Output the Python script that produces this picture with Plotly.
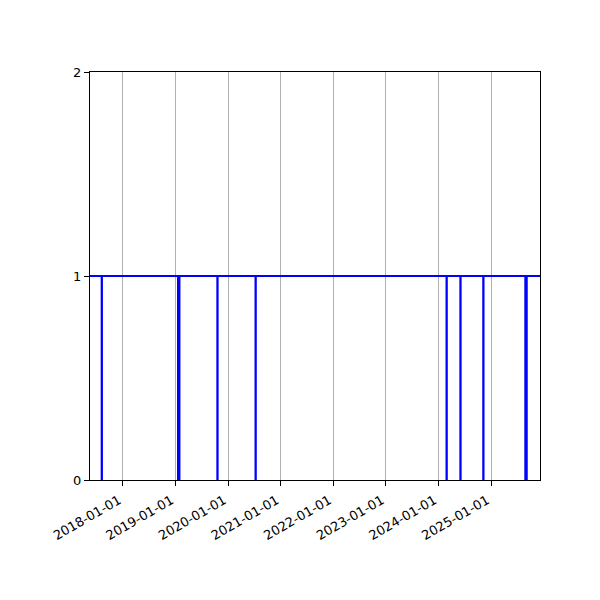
import plotly.graph_objects as go

# Data: series is 1 except for outage periods where it drops to 0
range_start = "2017-05-18"
range_end = "2025-12-06"
outage_start = ["2017-08-07", "2019-01-19", "2019-10-19", "2020-07-10",
                "2024-02-26", "2024-06-01", "2024-11-07", "2025-08-26"]
outage_end = ["2017-08-09", "2019-01-29", "2019-10-21", "2020-07-12",
              "2024-02-28", "2024-06-03", "2024-11-09", "2025-09-05"]

x = [range_start]
y = [1]
for s, e in zip(outage_start, outage_end):
    x += [s, e]
    y += [0, 1]
x.append(range_end)
y.append(1)

fig = go.Figure()
fig.add_trace(go.Scatter(x=x, y=y, mode="lines", line=dict(color="#0000ff", width=2, shape="hv"),
                         showlegend=False))

fig.update_layout(
    width=600, height=600,
    margin=dict(l=82, r=68, t=64, b=128),
    plot_bgcolor="white", paper_bgcolor="white",
    font=dict(family="DejaVu Sans", size=13, color="black"),
)
fig.update_xaxes(
    range=[range_start, range_end],
    tick0="2018-01-01", dtick="M12", tickformat="%Y-%m-%d",
    tickangle=-30, ticklabelshift=-4, ticklabelstandoff=2,
    showgrid=True, gridcolor="#b0b0b0", gridwidth=1,
    showline=True, linecolor="black", linewidth=1, mirror=True,
    ticks="outside", ticklen=5, tickcolor="black",
    zeroline=False,
)
fig.update_yaxes(
    range=[0, 2], tickvals=[0, 1, 2],
    showgrid=False,
    showline=True, linecolor="black", linewidth=1, mirror=True,
    ticks="outside", ticklen=5, tickcolor="black",
    zeroline=False,
)

fig.write_html("out.html")
